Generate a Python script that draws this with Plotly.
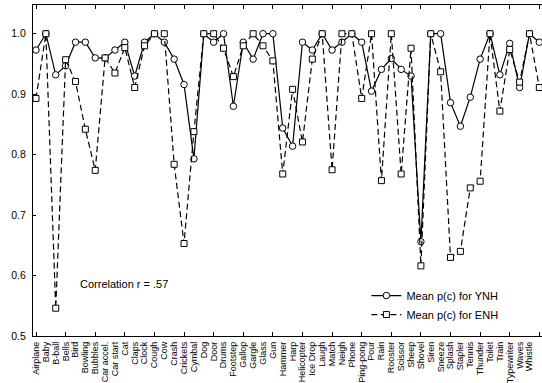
import plotly.graph_objects as go

categories = ["Airplane", "Baby", "B-ball", "Bells", "Bird", "Bowling", "Bubbles", "Car accel.",
              "Car start", "Cat", "Claps", "Clock", "Cough", "Cow", "Crash", "Crickets", "Cymbal",
              "Dog", "Door", "Drums", "Footstep", "Gallop", "Gargle", "Glass", "Gun", "Hammer",
              "Harp", "Helicopter", "Ice Drop", "Laugh", "Match", "Neigh", "Phone", "Ping-pong",
              "Pour", "Rain", "Rooster", "Scissor", "Sheep", "Shovel", "Siren", "Sneeze", "Splash",
              "Stapler", "Tennis", "Thunder", "Toilet", "Train", "Typewriter", "Waves", "Whistle",
              "Zipper"]

ynh = [0.973, 1.0, 0.932, 0.947, 0.986, 0.986, 0.960, 0.960, 0.973, 0.986, 0.930, 0.986,
       1.0, 0.986, 0.958, 0.916, 0.793, 1.0, 0.986, 1.0, 0.880, 0.986, 0.958, 1.0, 1.0, 0.844,
       0.814, 0.986, 0.973, 1.0, 0.973, 0.986, 1.0, 0.986, 0.905, 0.941, 0.959, 0.941, 0.930,
       0.656, 1.0, 1.0, 0.886, 0.847, 0.895, 0.958, 1.0, 0.932, 0.984, 0.911, 1.0, 0.986]

enh = [0.893, 1.0, 0.546, 0.957, 0.921, 0.842, 0.774, 0.960, 0.935, 0.977, 0.911, 0.980,
       1.0, 1.0, 0.784, 0.653, 0.838, 1.0, 1.0, 0.976, 0.929, 0.980, 1.0, 0.980, 0.955, 0.768,
       0.908, 0.821, 0.958, 1.0, 0.775, 1.0, 1.0, 0.893, 1.0, 0.757, 1.0, 0.768, 0.976, 0.616,
       1.0, 0.937, 0.630, 0.640, 0.745, 0.756, 1.0, 0.872, 0.974, 0.920, 1.0, 0.911]

y_ticks = [0.5, 0.6, 0.7, 0.8, 0.9, 1.0]
y_ticktext = ["0.5", "0.6", "0.7", "0.8", "0.9", "1.0"]
annotation_text = "Correlation r = .57"

idx = list(range(len(categories)))
major_ticks = idx[::3]

FONT = "Liberation Sans, Arial, sans-serif"

fig = go.Figure()
fig.add_trace(go.Scatter(
    x=idx, y=ynh, name="Mean p(c) for YNH", mode="lines+markers",
    line=dict(color="black", width=1.2),
    marker=dict(symbol="circle", size=6.5, color="white", line=dict(color="black", width=1)),
))
fig.add_trace(go.Scatter(
    x=idx, y=enh, name="Mean p(c) for ENH", mode="lines+markers",
    line=dict(color="black", width=1.2, dash="6px,3.5px"),
    marker=dict(symbol="square", size=6, color="white", line=dict(color="black", width=1)),
))
# helper trace to anchor the tick-only overlay axis
fig.add_trace(go.Scatter(x=[major_ticks[0]], y=[None], xaxis="x2", showlegend=False,
                         hoverinfo="skip", mode="markers"))

xr = [-0.304, 51.27]
fig.update_layout(
    width=542, height=383,
    margin=dict(l=33, r=0, t=5, b=44),
    paper_bgcolor="white", plot_bgcolor="white",
    font=dict(family=FONT, color="black", size=11),
    showlegend=True,
    legend=dict(x=0.655, y=0.166, xanchor="left", yanchor="top",
                bgcolor="rgba(0,0,0,0)", font=dict(size=11), itemwidth=30,
                tracegroupgap=0),
    xaxis=dict(range=xr, tickmode="array", tickvals=idx, ticktext=categories,
               tickangle=-90, tickfont=dict(size=9), ticks="", showgrid=False,
               zeroline=False, showline=True, linecolor="black", linewidth=1.2,
               ticklabelstandoff=1),
    xaxis2=dict(range=xr, overlaying="x", anchor="y", side="bottom", tickmode="array",
                tickvals=major_ticks, showticklabels=False, ticks="inside", ticklen=4,
                tickcolor="black", tickwidth=1, mirror="ticks", showline=True,
                linecolor="black", linewidth=1.2, showgrid=False, zeroline=False),
    yaxis=dict(range=[0.5, 1.0475], tickmode="array", tickvals=y_ticks, ticktext=y_ticktext,
               ticks="inside", ticklen=3, tickcolor="black", showgrid=False, zeroline=False,
               showline=True, linecolor="black", linewidth=1.2, tickfont=dict(size=10.5),
               ticklabelstandoff=4),
    annotations=[dict(x=0.088, y=0.156, xref="paper", yref="paper", text=annotation_text,
                      showarrow=False, xanchor="left", yanchor="middle", font=dict(size=11))],
)

fig.write_html("out.html")
